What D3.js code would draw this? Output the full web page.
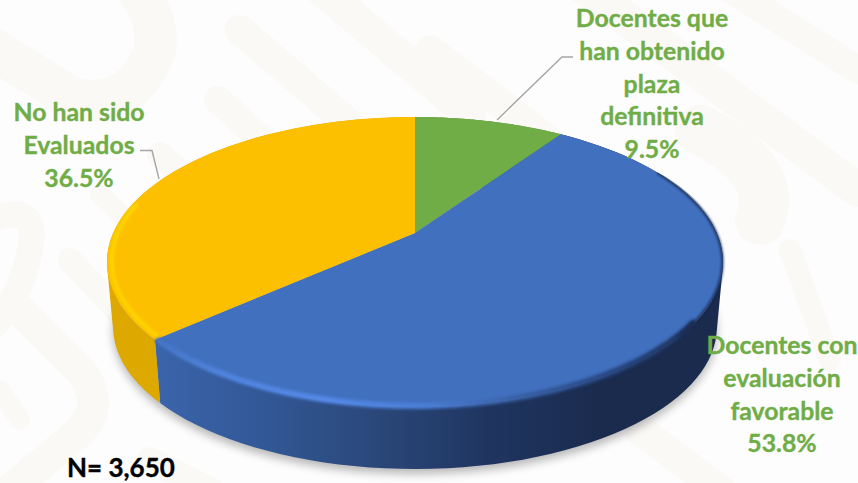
<!DOCTYPE html>
<html><head><meta charset="utf-8">
<script src="https://cdnjs.cloudflare.com/ajax/libs/d3/7.8.5/d3.min.js"></script>
<style>html,body{margin:0;padding:0;background:#fdfdfd}svg{display:block}text{font-family:Lato,sans-serif;font-weight:700}</style>
</head><body><svg id="c" width="858" height="483"></svg>
<script>
const categories = ["Docentes que han obtenido plaza definitiva","Docentes con evaluación favorable","No han sido Evaluados"];
const values = [9.5,53.8,36.5];
const topColors = ["#70ad47","#4170bf","#fcc000"];
const labelLines = [["Docentes que","han obtenido","plaza","definitiva","9.5%"],["Docentes con","evaluación","favorable","53.8%"],["No han sido","Evaluados","36.5%"]];
const labelAnchors = [[652,27],[782,354],[79,121]];
const sampleTotal = "N= 3,650";

const svg=d3.select("#c");
const defs=svg.append("defs");
const blur=(id,s)=>defs.append("filter").attr("id",id).attr("x","-20%").attr("y","-20%").attr("width","140%").attr("height","140%").append("feGaussianBlur").attr("stdDeviation",s);
blur("b1",1.5);blur("b6",5);blur("bw",1);
const grad=(id,x1,x2,stops)=>{const g=defs.append("linearGradient").attr("id",id).attr("gradientUnits","userSpaceOnUse").attr("x1",x1).attr("x2",x2).attr("y1",0).attr("y2",0);
 stops.forEach(s=>g.append("stop").attr("offset",s[0]).attr("stop-color",s[1]));};
grad("wallBlue",157,600,[[0,"#3a64ab"],[.25,"#325795"],[.5,"#2a4779"],[.75,"#1f3560"],[1,"#1a2b4e"]]);
grad("rimBlue",157,720,[[0,"#4473c4"],[.1,"#4f82dc"],[.3,"#5489e8"],[.48,"#4a7dd4"],[.62,"#3a63aa"],[.8,"#274680"],[1,"#1a2b4e"]]);

// watermark
const wm=svg.append("g").attr("fill","none").attr("stroke","#fbf9f6").attr("stroke-linecap","round").attr("stroke-linejoin","round");
[
 ["M-10,47L70,97Q130,115 155,50Q160,15 130,-20",42],
 ["M240,30L380,150",30],
 ["M218,100L290,165",28],
 ["M310,-20L470,115",32],
 ["M430,50L640,210",30],
 ["M560,-30L858,190",34],
 ["M700,-30L858,70",28],
 ["M160,155L230,215",26],
 ["M100,195L160,250",20],
 ["M-10,220Q40,200 30,250T-10,330",26],
 ["M70,260L140,335",24],
 ["M20,310L80,370Q110,410 70,440L10,490",32],
 ["M0,390L20,420",20],
 ["M150,460L210,490",26],
 ["M700,130Q780,170 760,220",50],
 ["M790,250L830,360",22],
 ["M640,430L720,490",30]
].forEach(d=>wm.append("path").attr("d",d[0]).attr("stroke-width",d[1]));

// perspective projection of the pie's unit disc
const cx=415,cy=233,R=301.8,B=139.2,p=.2,dy=65.5,lower=.98;
const proj=(a,r=1,k=1,off=0)=>{const u=r*Math.sin(a),v=-r*Math.cos(a),w=1-p*v;
 return [cx+k*R*u/w, cy+k*B*v/w+off];};
const pie=d3.pie().sort(null).value(d=>d)(values);
const line=d3.line();
const arcPts=(a0,a1,r,k,off)=>d3.range(0,1.0001,1/80).map(t=>proj(a0+(a1-a0)*t,r,k,off));

// soft shadow under the disc
svg.append("path").attr("d",line(arcPts(0,2*Math.PI,1,lower,dy+5))+"Z").attr("fill","#000").attr("opacity",.28).attr("filter","url(#b6)");

// walls: one path of narrow quads, all wound the same way, so the silhouette is tangent at the sides
const wallFill=["#5c8f3a","url(#wallBlue)","#dda800"];
pie.forEach((s,i)=>{
 const a=arcPts(s.startAngle,s.endAngle,1,1,0),b=arcPts(s.startAngle,s.endAngle,1,lower,dy);
 const d=d3.range(a.length-1).map(j=>{
  const q=[a[j],a[j+1],b[j+1],b[j]];
  if(d3.polygonArea(q)<0)q.reverse();
  return line(q)+"Z";
 }).join("");
 svg.append("path").attr("d",d).attr("fill",wallFill[i]);
});

// top face
pie.forEach((s,i)=>{
 const pts=[proj(0,0)].concat(arcPts(s.startAngle,s.endAngle,1,1,0));
 svg.append("path").attr("d",line(pts)+"Z").attr("fill",topColors[i]);
});

// bevel rims
const clip=defs.append("clipPath").attr("id","rimclip");
clip.append("path").attr("d",line(arcPts(0,2*Math.PI,1.02,1,3))+"Z");
const rim=svg.append("g").attr("clip-path","url(#rimclip)");
const bl=pie[1],ye=pie[2];
const rad=Math.PI/180;
rim.append("path").attr("d",line(arcPts(125*rad,bl.endAngle-.01,.995,1,0))).attr("fill","none").attr("stroke","url(#rimBlue)").attr("stroke-width",6).attr("filter","url(#b1)").attr("stroke-linecap","round");
rim.append("path").attr("d",line(arcPts(62*rad,130*rad,.998,1,0))).attr("fill","none").attr("stroke","#1a2b4e").attr("stroke-width",2.6).attr("filter","url(#bw)").attr("stroke-opacity",.8).attr("stroke-linecap","round");
rim.append("path").attr("d",line(arcPts(ye.startAngle+.01,ye.startAngle+.95,.985,1,0))).attr("fill","none").attr("stroke","#ffd500").attr("stroke-width",4).attr("filter","url(#b1)");

// leader lines
const leaders=[[[573,57],[562,57],[497,120]],[[140,150.5],[152,150.5],[159,179]]];
leaders.forEach(l=>svg.append("path").attr("d",line(l)).attr("fill","none").attr("stroke","#a6a6a6").attr("stroke-width",1.4));

// labels
labelLines.forEach((ls,i)=>{
 const t=svg.append("text").attr("text-anchor","middle").attr("fill","#70ad47").attr("font-size",24.8).attr("stroke","#70ad47").attr("stroke-width",.35);
 ls.forEach((l,j)=>t.append("tspan").attr("x",labelAnchors[i][0]).attr("y",labelAnchors[i][1]+j*32.8).text(l));
});
svg.append("text").attr("x",67).attr("y",477).attr("font-size",26).attr("fill","#000").attr("stroke","#000").attr("stroke-width",.35).text(sampleTotal);
</script></body></html>
